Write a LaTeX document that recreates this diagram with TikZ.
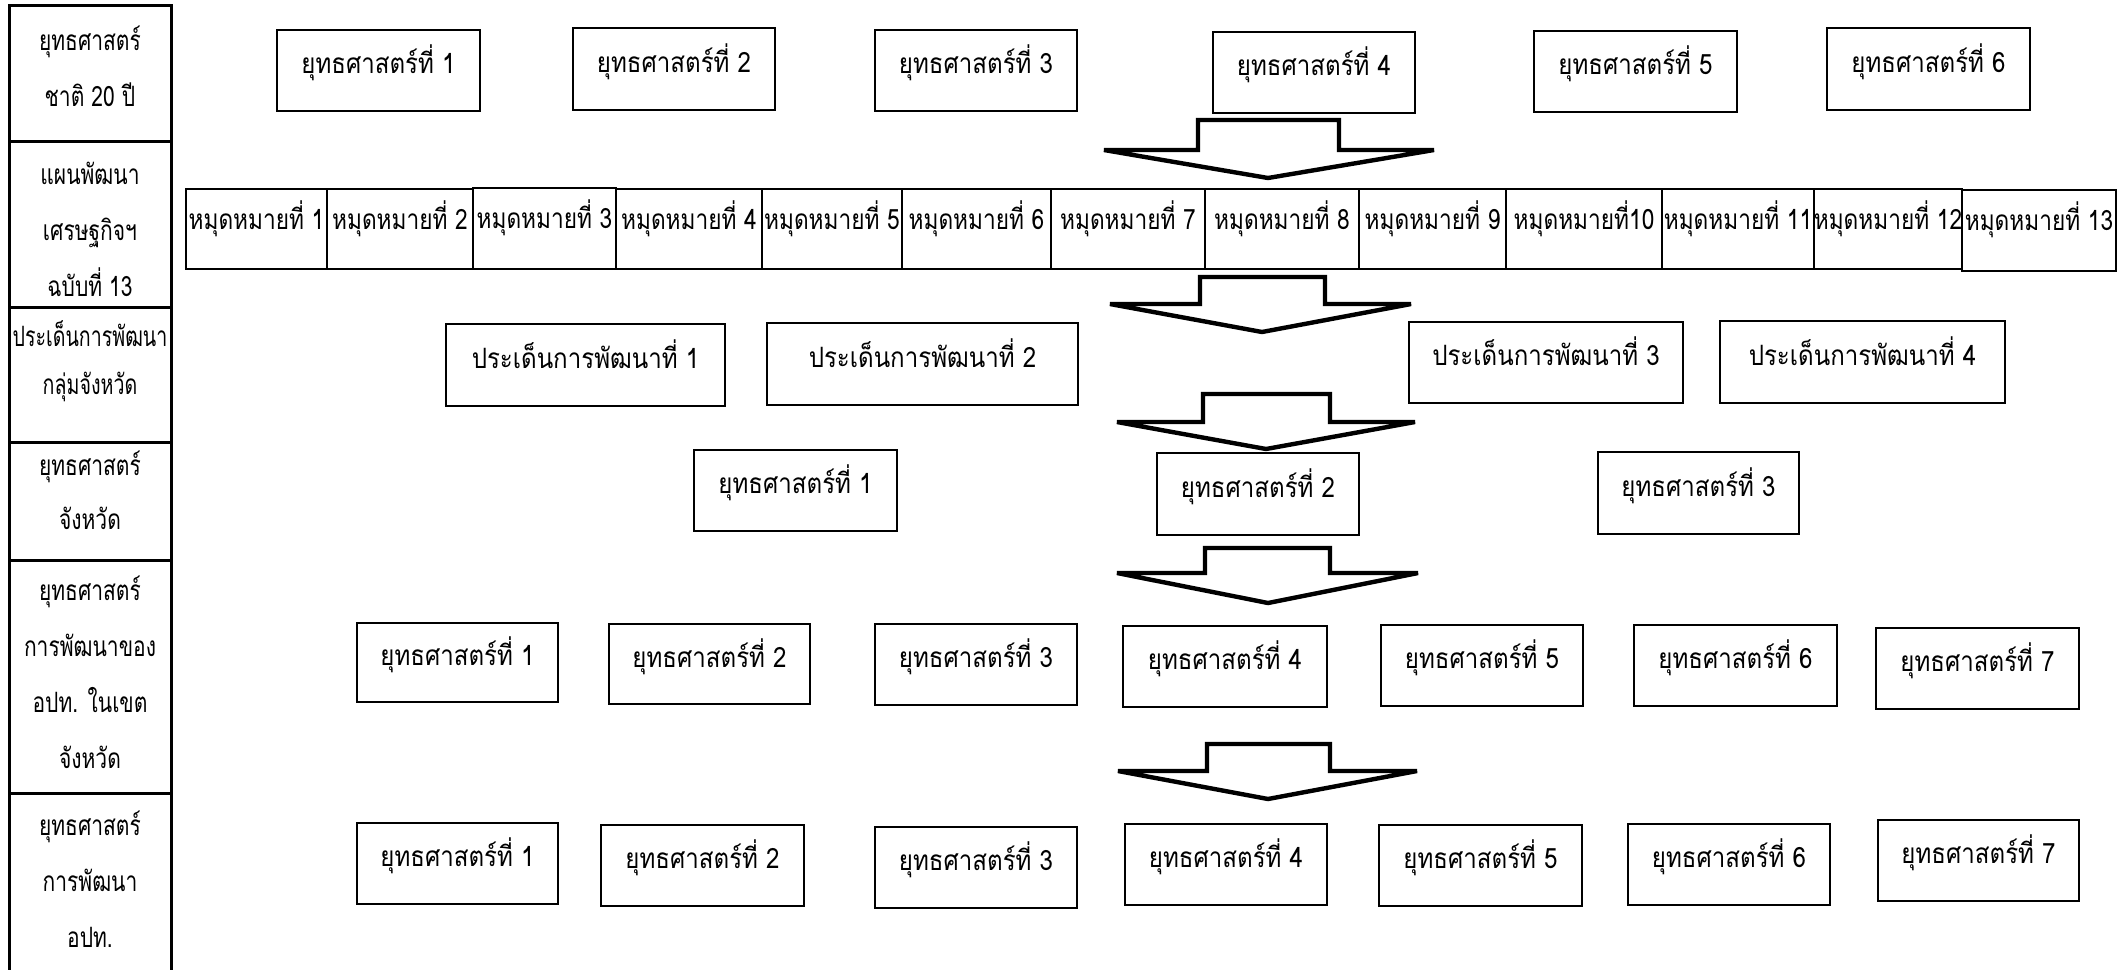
\documentclass[tikz,border=0pt]{standalone}
\usepackage{fontspec}
\newfontfamily\thai[Script=Thai, FakeStretch=0.86]{Loma}
\newfontfamily\thaim[Script=Thai, FakeStretch=0.81]{Loma}
\newfontfamily\thail[Script=Thai, FakeStretch=0.75]{Loma}
\newfontfamily\thaic[Script=Thai, FakeStretch=0.7]{Loma}
\tikzset{
 bx/.style={draw, line width=1pt, inner sep=0pt, font=\thai\fontsize{14}{16}\selectfont, text height=10pt, text depth=7pt},
 mbx/.style={bx, font=\thaim\fontsize{14}{16}\selectfont, text height=10pt, text depth=10pt},
 lc/.style={draw, line width=1.5pt, inner sep=0pt},
 lt/.style={inner sep=0pt, align=center, font=\thail\fontsize{14}{28}\selectfont},
 blockarrow/.style={draw, line width=2.2pt, fill=white, line join=miter},
}
\newcommand\mybox[7][bx]{\node[#1, minimum width={(#5-#3)*0.5pt}, minimum height={(#6-#4)*0.5pt}] (#2) at ({(#3+#5)/2},{(#4+#6)/2}) {#7};}
\newcommand\myarrow[8]{\draw[blockarrow] (#1,#3) -- (#2,#3) -- (#2,#4) -- (#6,#4) -- (#7,#8) -- (#5,#4) -- (#1,#4) -- cycle;}
\begin{document}
\begin{tikzpicture}[x=0.5pt,y=-0.5pt]
\useasboundingbox (0,0) rectangle (2118,969);
% left column
\mybox[lc]{L1}{9.5}{5}{171}{141}{}
\mybox[lc]{L2}{9.5}{141}{171}{307}{}
\mybox[lc]{L3}{9.5}{307}{171}{442}{}
\mybox[lc]{L4}{9.5}{442}{171}{560}{}
\mybox[lc]{L5}{9.5}{560}{171}{793}{}
\mybox[lc]{L6}{9.5}{793}{171}{975}{}
\node[lt] (L1t) at (90,66.5) {ยุทธศาสตร์\\ชาติ 20 ปี};
\node[lt] (L2t) at (90,229) {แผนพัฒนา\\เศรษฐกิจฯ\\ฉบับที่ 13};
\node[lt, font=\thaic\fontsize{14}{24}\selectfont] (L3t) at (90,361) {ประเด็นการพัฒนา\\กลุ่มจังหวัด};
\node[lt, font=\thail\fontsize{14}{27}\selectfont] (L4t) at (90,490) {ยุทธศาสตร์\\จังหวัด};
\node[lt] (L5t) at (90,672) {ยุทธศาสตร์\\การพัฒนาของ\\อปท. ในเขต\\จังหวัด};
\node[lt] (L6t) at (90,879) {ยุทธศาสตร์\\การพัฒนา\\อปท.};
% row 1
\mybox{a1}{277}{30}{480}{111}{ยุทธศาสตร์ที่ 1}
\mybox{a2}{573}{28}{775}{110}{ยุทธศาสตร์ที่ 2}
\mybox{a3}{875}{30}{1077}{111}{ยุทธศาสตร์ที่ 3}
\mybox{a4}{1213}{32}{1415}{113}{ยุทธศาสตร์ที่ 4}
\mybox{a5}{1534}{31}{1737}{112}{ยุทธศาสตร์ที่ 5}
\mybox{a6}{1827}{28}{2030}{110}{ยุทธศาสตร์ที่ 6}
% row 2
\mybox[mbx]{m1}{186}{189}{327}{269}{หมุดหมายที่ 1}
\mybox[mbx]{m2}{327}{189}{473}{269}{หมุดหมายที่ 2}
\mybox[mbx]{m3}{473}{188}{616}{269}{หมุดหมายที่ 3}
\mybox[mbx]{m4}{616}{189}{762}{269}{หมุดหมายที่ 4}
\mybox[mbx]{m5}{762}{189}{902}{269}{หมุดหมายที่ 5}
\mybox[mbx]{m6}{902}{189}{1051}{269}{หมุดหมายที่ 6}
\mybox[mbx]{m7}{1051}{189}{1205}{269}{หมุดหมายที่ 7}
\mybox[mbx]{m8}{1205}{189}{1359}{269}{หมุดหมายที่ 8}
\mybox[mbx]{m9}{1359}{189}{1506}{269}{หมุดหมายที่ 9}
\mybox[mbx]{m10}{1506}{189}{1662}{269}{หมุดหมายที่10}
\mybox[mbx]{m11}{1662}{189}{1814}{269}{หมุดหมายที่ 11}
\mybox[mbx]{m12}{1814}{189}{1962}{269}{หมุดหมายที่ 12}
\mybox[mbx]{m13}{1962}{190}{2116}{271}{หมุดหมายที่ 13}
% row 3
\mybox{p1}{446}{324}{725}{406}{ประเด็นการพัฒนาที่ 1}
\mybox{p2}{767}{323}{1078}{405}{ประเด็นการพัฒนาที่ 2}
\mybox{p3}{1409}{322}{1683}{403}{ประเด็นการพัฒนาที่ 3}
\mybox{p4}{1720}{321}{2005}{403}{ประเด็นการพัฒนาที่ 4}
% row 4
\mybox{s1}{694}{450}{897}{531}{ยุทธศาสตร์ที่ 1}
\mybox{s2}{1157}{453}{1359}{535}{ยุทธศาสตร์ที่ 2}
\mybox{s3}{1598}{452}{1799}{534}{ยุทธศาสตร์ที่ 3}
% row 5
\mybox{t1}{357}{623}{558}{702}{ยุทธศาสตร์ที่ 1}
\mybox{t2}{609}{624}{810}{704}{ยุทธศาสตร์ที่ 2}
\mybox{t3}{875}{624}{1077}{705}{ยุทธศาสตร์ที่ 3}
\mybox{t4}{1123}{626}{1327}{707}{ยุทธศาสตร์ที่ 4}
\mybox{t5}{1381}{625}{1583}{706}{ยุทธศาสตร์ที่ 5}
\mybox{t6}{1634}{625}{1837}{706}{ยุทธศาสตร์ที่ 6}
\mybox{t7}{1876}{628}{2079}{709}{ยุทธศาสตร์ที่ 7}
% row 6
\mybox{u1}{357}{823}{558}{904}{ยุทธศาสตร์ที่ 1}
\mybox{u2}{601}{825}{804}{906}{ยุทธศาสตร์ที่ 2}
\mybox{u3}{875}{827}{1077}{908}{ยุทธศาสตร์ที่ 3}
\mybox{u4}{1125}{824}{1327}{905}{ยุทธศาสตร์ที่ 4}
\mybox{u5}{1379}{825}{1582}{906}{ยุทธศาสตร์ที่ 5}
\mybox{u6}{1628}{824}{1830}{905}{ยุทธศาสตร์ที่ 6}
\mybox{u7}{1878}{820}{2079}{901}{ยุทธศาสตร์ที่ 7}
% block arrows
\myarrow{1198}{1339}{120}{150}{1104}{1434}{1268}{178}
\myarrow{1200}{1325}{277}{304}{1110}{1411}{1262}{332}
\myarrow{1203}{1330}{394}{422}{1117}{1415}{1266}{449}
\myarrow{1205}{1330}{548}{573}{1117}{1418}{1268}{603}
\myarrow{1207}{1330}{744}{771}{1118}{1417}{1268}{799}
\end{tikzpicture}
\end{document}
